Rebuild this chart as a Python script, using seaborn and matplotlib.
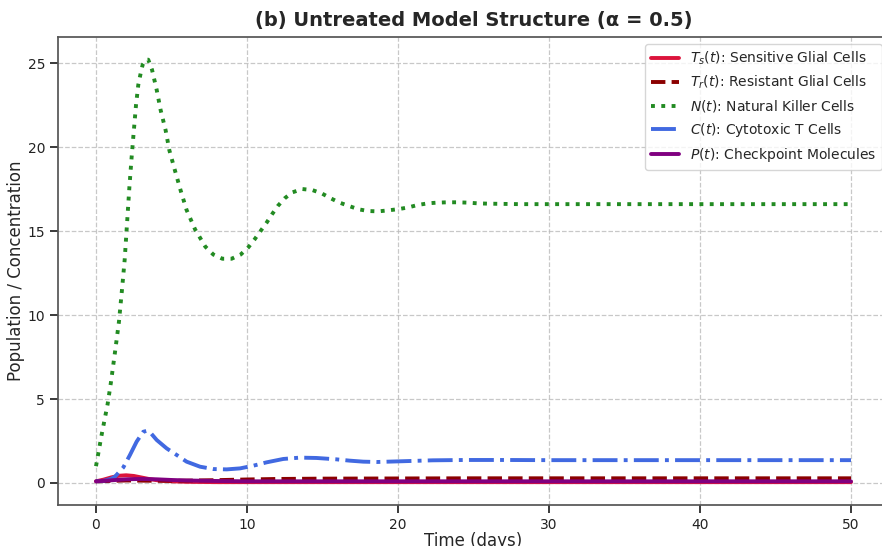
import matplotlib
matplotlib.use("Agg")
import matplotlib.pyplot as plt
import seaborn as sns
import numpy as np
import pandas as pd

# ---- data ----
t_N = [0, 0.38, 0.77, 0.99, 1.26, 1.52, 1.72, 1.9, 2.03, 2.21, 2.36, 2.47, 2.65, 2.8, 2.96,
       3.09, 3.3, 3.46, 3.71, 4.02, 4.28, 4.61, 4.86, 5.23, 5.61, 6.0, 6.56, 7.24, 7.77, 8.37,
       8.98, 9.58, 10.09, 10.5, 10.9, 11.3, 11.66, 12.05, 12.5, 13.0, 13.66, 14.32, 14.95,
       15.54, 16.1, 16.75, 17.4, 18.03, 18.7, 19.36, 20.0, 20.66, 21.3, 22.0, 22.6, 23.3,
       23.9, 24.6, 25.25, 25.9, 26.6, 28, 30, 35, 40, 45, 50]
N_vals = [1.0, 2.9, 4.7, 6.0, 7.8, 9.6, 11.5, 13.3, 15.1, 17.6, 19.4, 20.6, 22.5, 23.7, 24.4,
          24.9, 25.2, 25.2, 24.6, 23.4, 22.2, 21.0, 19.8, 18.6, 17.4, 16.25, 15.1, 14.07, 13.6,
          13.35, 13.35, 13.6, 14.03, 14.5, 15.0, 15.5, 16.0, 16.5, 16.95, 17.3, 17.5, 17.44,
          17.24, 16.95, 16.7, 16.49, 16.29, 16.19, 16.17, 16.23, 16.3, 16.4, 16.55, 16.65,
          16.69, 16.71, 16.71, 16.69, 16.65, 16.63, 16.62, 16.6, 16.6, 16.6, 16.6, 16.6, 16.6]

t_C = [0, 0.5, 1.0, 1.26, 1.81, 2.25, 2.69, 3.13, 3.35, 3.6, 4.02, 4.68, 5.34, 6.0, 6.89,
       7.77, 8.65, 9.54, 10.42, 11.3, 12.4, 13.5, 14.6, 15.9, 16.8, 17.7, 18.6, 20.1, 22.3,
       24.5, 27, 30, 35, 40, 45, 50]
C_vals = [0.1, 0.13, 0.25, 0.38, 0.93, 1.67, 2.46, 3.05, 3.1, 3.0, 2.56, 2.06, 1.67, 1.27,
          0.97, 0.83, 0.81, 0.87, 1.03, 1.23, 1.43, 1.51, 1.49, 1.41, 1.33, 1.27, 1.25, 1.29,
          1.35, 1.37, 1.37, 1.36, 1.36, 1.36, 1.36, 1.36]

t_Ts = [0, 0.5, 1, 1.5, 2, 2.5, 3, 3.5, 4, 5, 6, 8, 10, 15, 20, 30, 40, 50]
Ts_vals = [0.1, 0.2, 0.33, 0.43, 0.46, 0.42, 0.33, 0.24, 0.17, 0.1, 0.07, 0.05, 0.05, 0.05,
           0.05, 0.05, 0.05, 0.05]

t_Tr = [0, 2, 4, 6, 8, 10, 12, 15, 20, 25, 30, 40, 50]
Tr_vals = [0.1, 0.15, 0.13, 0.14, 0.17, 0.21, 0.24, 0.26, 0.27, 0.28, 0.28, 0.28, 0.28]

t_P = [0, 1, 2, 3, 4, 5, 6, 8, 10, 15, 20, 30, 40, 50]
P_vals = [0.1, 0.16, 0.22, 0.24, 0.22, 0.18, 0.15, 0.12, 0.1, 0.1, 0.1, 0.1, 0.1, 0.1]

labels = [r"$T_s(t)$: Sensitive Glial Cells",
          r"$T_r(t)$: Resistant Glial Cells",
          r"$N(t)$: Natural Killer Cells",
          r"$C(t)$: Cytotoxic T Cells",
          r"$P(t)$: Checkpoint Molecules"]
colors = ["#DC143C", "#8B0000", "#228B22", "#4169E1", "#800080"]
styles = ["-", "--", ":", "-.", "-"]

series = [(t_Ts, Ts_vals), (t_Tr, Tr_vals), (t_N, N_vals), (t_C, C_vals), (t_P, P_vals)]

sns.set_theme(style="ticks")
plt.rcParams['font.family'] = ['DejaVu Sans']

fig = plt.figure(figsize=(8.82, 5.46), dpi=100)
ax = fig.add_axes([58.25 / 882, 41 / 546, 830.5 / 882, 468 / 546])

for (tt, vv), lab, col, ls in zip(series, labels, colors, styles):
    df = pd.DataFrame({"t": tt, "v": vv})
    sns.lineplot(data=df, x="t", y="v", ax=ax, color=col, linestyle=ls,
                 linewidth=2.8, label=lab, estimator=None, sort=True)

ax.set_xlim(-2.5, 52.5)
ax.set_ylim(-1.31, 26.55)
ax.set_xticks([0, 10, 20, 30, 40, 50])
ax.set_yticks([0, 5, 10, 15, 20, 25])
ax.tick_params(labelsize=10, colors="#222222")
for s in ax.spines.values():
    s.set_color("#555555")
ax.spines['right'].set_visible(False)
ax.grid(True, linestyle="--", color="#bbbbbb", alpha=0.8, linewidth=0.9)
ax.set_xlabel("Time (days)", fontsize=12, labelpad=0)
ax.set_ylabel("Population / Concentration", fontsize=12, labelpad=2)
ax.set_title("(b) Untreated Model Structure (α = 0.5)", fontsize=14, fontweight="bold", pad=8)
ax.legend(loc="upper right", fontsize=10, frameon=True, fancybox=True)

fig.savefig("out.png", dpi=100)
